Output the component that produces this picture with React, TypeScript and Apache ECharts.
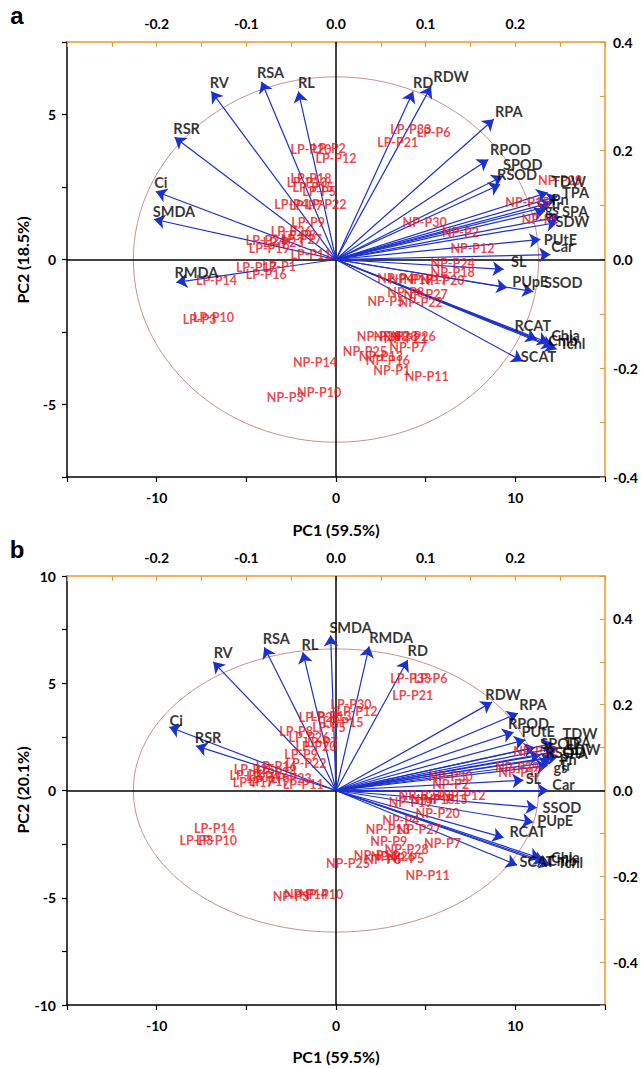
import React, { useEffect, useRef } from "react";
import * as echarts from "echarts";

// ---------- texts ----------
const pc1Title = "PC1 (59.5%)";
const pc2TitleA = "PC2 (18.5%)";
const pc2TitleB = "PC2 (20.1%)";

// ---------- tick labels ----------
const pcXLabels = [-10, 0, 10];
const pcYLabelsA = [-5, 0, 5];
const pcYLabelsB = [-10, -5, 0, 5, 10];
const topLabels = ["-0.2", "-0.1", "0.0", "0.1", "0.2"];
const rightLabelsA = ["-0.4", "-0.2", "0.0", "0.2", "0.4"];
const rightLabelsB = ["-0.4", "-0.2", "0.0", "0.2", "0.4"];

// ---------- correlation ellipse (centre x, centre y, radius x, radius y in PC units) ----------
const ellipseA = [0, 0, 11.3, 6.3];
const ellipseB = [0, 0, 11.3, 6.6];

// ---------- loadings, panel a: [variable, loading PC1, loading PC2] ----------
const loadingsA: [string, number, number][] = [
  ["RV", -0.139, 0.309],
  ["RSA", -0.083, 0.327],
  ["RL", -0.042, 0.309],
  ["RSR", -0.18, 0.225],
  ["Ci", -0.201, 0.125],
  ["SMDA", -0.203, 0.074],
  ["RMDA", -0.178, -0.042],
  ["RD", 0.086, 0.309],
  ["RDW", 0.106, 0.318],
  ["RPA", 0.176, 0.258],
  ["RPOD", 0.17, 0.184],
  ["SPOD", 0.186, 0.153],
  ["RSOD", 0.183, 0.138],
  ["TDW", 0.236, 0.123],
  ["TPA", 0.247, 0.116],
  ["Pn", 0.241, 0.105],
  ["Tr", 0.237, 0.098],
  ["gs", 0.233, 0.089],
  ["SPA", 0.25, 0.079],
  ["SDW", 0.247, 0.068],
  ["PUtE", 0.228, 0.037],
  ["Car", 0.239, 0.009],
  ["SL", 0.187, -0.018],
  ["PUpE", 0.191, -0.052],
  ["SSOD", 0.22, -0.059],
  ["RCAT", 0.224, -0.147],
  ["Chla", 0.237, -0.153],
  ["Chlb", 0.242, -0.16],
  ["Tchl", 0.246, -0.165],
  ["SCAT", 0.208, -0.187],
];

// ---------- loadings, panel b ----------
const loadingsB: [string, number, number][] = [
  ["RV", -0.137, 0.3],
  ["RSA", -0.08, 0.334],
  ["RL", -0.037, 0.322],
  ["SMDA", -0.006, 0.362],
  ["Ci", -0.186, 0.148],
  ["RSR", -0.156, 0.104],
  ["RMDA", 0.037, 0.336],
  ["RD", 0.08, 0.304],
  ["RDW", 0.174, 0.206],
  ["RPA", 0.203, 0.18],
  ["RPOD", 0.198, 0.136],
  ["PUtE", 0.211, 0.118],
  ["TDW", 0.242, 0.11],
  ["TPA", 0.247, 0.1],
  ["SPOD", 0.222, 0.1],
  ["RSOD", 0.228, 0.082],
  ["SPA", 0.244, 0.09],
  ["SDW", 0.248, 0.08],
  ["Pn", 0.241, 0.076],
  ["Tr", 0.239, 0.066],
  ["gs", 0.236, 0.058],
  ["SL", 0.209, 0.024],
  ["Car", 0.237, 0.0],
  ["SSOD", 0.224, -0.04],
  ["PUpE", 0.22, -0.074],
  ["RCAT", 0.187, -0.11],
  ["Chla", 0.228, -0.158],
  ["Chlb", 0.233, -0.166],
  ["Tchl", 0.239, -0.174],
  ["SCAT", 0.202, -0.174],
];

// ---------- scores, panel a: [genotype, PC1, PC2] ----------
const scoresA: [string, number, number][] = [
  ["LP-P20", -1.39, 3.79],
  ["LP-P2", -0.39, 3.83],
  ["LP-P12", 0.0, 3.48],
  ["LP-P18", -1.39, 2.79],
  ["LP-P13", -1.61, 2.66],
  ["LP-P15", -1.28, 2.48],
  ["LP-P5", -0.94, 2.34],
  ["LP-P4", -2.5, 1.9],
  ["LP-P7", -1.67, 1.86],
  ["LP-P22", -0.56, 1.9],
  ["LP-P9", -1.56, 1.28],
  ["LP-P26", -2.5, 0.97],
  ["LP-P8", -2.06, 0.83],
  ["LP-P24", -3.89, 0.66],
  ["LP-P23", -2.94, 0.59],
  ["LP-P19", -3.72, 0.38],
  ["LP-P27", -1.94, 0.69],
  ["LP-P11", -1.39, 0.17],
  ["LP-P17", -4.44, -0.28],
  ["LP-P1", -3.17, -0.24],
  ["LP-P16", -3.89, -0.52],
  ["LP-P14", -6.67, -0.72],
  ["LP-P3", -7.61, -2.07],
  ["LP-P10", -6.83, -2.0],
  ["LP-P33", 4.17, 4.48],
  ["LP-P6", 5.44, 4.38],
  ["LP-P21", 3.44, 4.03],
  ["NP-P30", 4.94, 1.28],
  ["NP-P2", 6.94, 0.93],
  ["NP-P12", 7.61, 0.38],
  ["NP-P15", 10.67, 1.97],
  ["NP-P9", 11.39, 1.38],
  ["NP-P29", 12.5, 2.72],
  ["NP-P24", 6.5, -0.14],
  ["NP-P18", 6.5, -0.45],
  ["NP-P4", 3.33, -0.66],
  ["NP-P19", 4.17, -0.69],
  ["NP-P17", 5.0, -0.69],
  ["NP-P20", 5.94, -0.72],
  ["NP-P8", 3.89, -1.14],
  ["NP-P27", 5.0, -1.21],
  ["NP-P5", 2.78, -1.45],
  ["NP-P22", 4.72, -1.48],
  ["NP-P28", 2.39, -2.66],
  ["NP-P23", 3.33, -2.66],
  ["NP-P21", 3.89, -2.72],
  ["NP-P26", 4.33, -2.66],
  ["NP-P7", 4.0, -3.03],
  ["NP-P25", 1.61, -3.17],
  ["NP-P13", 2.5, -3.34],
  ["NP-P16", 2.89, -3.48],
  ["NP-P1", 3.11, -3.83],
  ["NP-P11", 5.06, -4.03],
  ["NP-P14", -1.17, -3.55],
  ["NP-P10", -0.94, -4.59],
  ["NP-P3", -2.83, -4.76],
];

// ---------- scores, panel b ----------
const scoresB: [string, number, number][] = [
  ["LP-P30", 0.83, 3.99],
  ["LP-P12", 1.17, 3.66],
  ["LP-P13", -0.28, 3.47],
  ["LP-P28", -0.94, 3.38],
  ["LP-P15", 0.39, 3.15],
  ["LP-P5", -0.39, 2.96],
  ["LP-P8", -2.22, 2.73],
  ["LP-P26", -1.5, 2.49],
  ["LP-P7", -0.83, 2.26],
  ["LP-P20", -1.11, 2.03],
  ["LP-P9", -1.94, 1.66],
  ["LP-P22", -1.67, 1.24],
  ["LP-P16", -3.33, 1.14],
  ["LP-P25", -4.56, 0.96],
  ["LP-P24", -3.33, 0.86],
  ["LP-P4", -4.06, 0.63],
  ["LP-P1", -5.0, 0.68],
  ["LP-P23", -2.5, 0.58],
  ["LP-P19", -3.72, 0.44],
  ["LP-P17", -4.61, 0.35],
  ["LP-P11", -1.83, 0.26],
  ["LP-P14", -6.78, -1.75],
  ["LP-P3", -7.78, -2.31],
  ["LP-P10", -6.67, -2.31],
  ["LP-P33", 4.17, 5.2],
  ["LP-P6", 5.28, 5.2],
  ["LP-P21", 4.28, 4.45],
  ["NP-P30", 6.39, 0.63],
  ["NP-P2", 6.39, 0.26],
  ["NP-P12", 7.11, -0.21],
  ["NP-P29", 10.11, 1.05],
  ["NP-P22", 11.11, 1.84],
  ["NP-P17", 10.28, 0.86],
  ["NP-P24", 4.72, -0.21],
  ["NP-P18", 5.39, -0.44],
  ["NP-P15", 6.11, -0.44],
  ["NP-P19", 4.17, -0.54],
  ["NP-P20", 5.67, -1.05],
  ["NP-P4", 3.61, -1.38],
  ["NP-P13", 2.89, -1.84],
  ["NP-P27", 4.61, -1.84],
  ["NP-P9", 2.94, -2.4],
  ["NP-P28", 3.94, -2.73],
  ["NP-P7", 5.94, -2.49],
  ["NP-P16", 2.22, -3.05],
  ["NP-P26", 3.17, -3.1],
  ["NP-P5", 3.89, -3.15],
  ["NP-P6", 2.61, -3.24],
  ["NP-P25", 0.67, -3.38],
  ["NP-P11", 5.11, -3.94],
  ["NP-P3", -2.5, -4.96],
  ["NP-P14", -1.67, -4.87],
  ["NP-P10", -0.83, -4.87],
];

// ---------- label placement (style only, pixels) ----------
const offA: Record<string, [number, number]> = {
  RV: [8, -9], RSA: [9, -9], RL: [8, -9], RSR: [12, -9], Ci: [5, -9], SMDA: [20, -8],
  RMDA: [20, -10], RD: [10, -9], RDW: [20, -10], RPA: [15, -8], RPOD: [22, -10],
  SPOD: [20, -12], RSOD: [17, -10], TDW: [21, -11], TPA: [18, -4], Pn: [8, -3],
  Tr: [7, -2], gs: [7, -2], SPA: [15, -5], SDW: [15, -1], PUtE: [20, 0], Car: [12, -8],
  SL: [15, -8], PUpE: [23, -6], SSOD: [30, -9], RCAT: [-4, -14], Chla: [17, -7],
  Chlb: [10, -6], Tchl: [16, -6], SCAT: [16, -5],
};
const offB: Record<string, [number, number]> = {
  RV: [10, -9], RSA: [12, -9], RL: [7, -8], SMDA: [20, -8], Ci: [7, -7], RSR: [12, -8],
  RMDA: [22, -9], RD: [10, -10], RDW: [11, -8], RPA: [15, -9], RPOD: [15, -9],
  PUtE: [13, -8], TDW: [27, -10], TPA: [20, -5], SPOD: [25, -4], RSOD: [25, -3],
  SPA: [20, 2], SDW: [25, -7], Pn: [16, 2], Tr: [15, 3], gs: [13, 2], SL: [10, -2],
  Car: [15, -6], SSOD: [25, 0], PUpE: [22, -2], RCAT: [24, -6], Chla: [25, -1],
  Chlb: [17, -1], Tchl: [20, -3], SCAT: [20, -4],
};

const FONT = "Lato, 'Open Sans', sans-serif";
const ORANGE = "#f7962a";
const TICK_ORANGE = "#d9a040";
const BLUE = "#1b30cc";
const RED = "#e8161b";

function fmt1(k: number, d: number) {
  const s = (k / d).toFixed(1);
  return s === "-0.0" ? "0.0" : s;
}

function buildPanel(
  p: number,
  yMin: number,
  yMax: number,
  rMin: number,
  rMax: number,
  yLabels: number[],
  rLabels: string[],
  ellipse: number[],
  loadings: [string, number, number][],
  scores: [string, number, number][],
  offs: Record<string, [number, number]>
) {
  const xi = p * 2;
  const labelBase = { color: "#000", fontWeight: "bold" as const, fontSize: 14, fontFamily: FONT };
  const xAxes = [
    {
      gridIndex: p, type: "value", position: "bottom", min: -15, max: 15, interval: 5,
      axisLine: { onZero: false, lineStyle: { color: "#000", width: 1.5 } },
      axisTick: { show: true, length: 5, lineStyle: { color: "#000", width: 1.2 } },
      axisLabel: {
        ...labelBase, margin: 13, showMinLabel: true, showMaxLabel: true,
        formatter: (v: number) => (pcXLabels.includes(Math.round(v)) && Math.abs(v - Math.round(v)) < 1e-6 ? String(Math.round(v)) : ""),
      },
      splitLine: { show: false },
    },
    {
      gridIndex: p, type: "value", position: "top", min: -0.3, max: 0.3, interval: 0.05,
      axisLine: { onZero: false, lineStyle: { color: ORANGE, width: 1.5 } },
      axisTick: { show: true, inside: true, length: 5, lineStyle: { color: TICK_ORANGE, width: 1.2 } },
      axisLabel: {
        ...labelBase, margin: 12, showMinLabel: true, showMaxLabel: true,
        formatter: (v: number) => {
          const k = Math.round(v * 100);
          if (k % 10 !== 0) return "";
          const s = fmt1(k, 100);
          return topLabels.includes(s) ? s : "";
        },
      },
      splitLine: { show: false },
    },
  ];
  const yAxes = [
    {
      gridIndex: p, type: "value", position: "left", min: yMin, max: yMax, interval: 2.5,
      axisLine: { onZero: false, lineStyle: { color: "#000", width: 1.5 } },
      axisTick: { show: true, length: 5, lineStyle: { color: "#000", width: 1.2 } },
      axisLabel: {
        ...labelBase, margin: 11, showMinLabel: true, showMaxLabel: true,
        formatter: (v: number) => {
          const r = Math.round(v);
          return Math.abs(v - r) < 1e-6 && yLabels.includes(r) ? String(r) : "";
        },
      },
      splitLine: { show: false },
    },
    {
      gridIndex: p, type: "value", position: "right", min: rMin, max: rMax, interval: 0.1,
      axisLine: { onZero: false, lineStyle: { color: ORANGE, width: 1.5 } },
      axisTick: { show: true, inside: true, length: 5, lineStyle: { color: TICK_ORANGE, width: 1.2 } },
      axisLabel: {
        ...labelBase, margin: 8, showMinLabel: true, showMaxLabel: true,
        formatter: (v: number) => {
          const k = Math.round(v * 10);
          if (k % 2 !== 0) return "";
          const s = fmt1(k, 10);
          return rLabels.includes(s) ? s : "";
        },
      },
      splitLine: { show: false },
    },
  ];

  const series: any[] = [
    {
      type: "custom", xAxisIndex: xi, yAxisIndex: xi, silent: true, z: 1, clip: false,
      data: [ellipse],
      renderItem: (_params: any, api: any) => {
        const c = api.coord([api.value(0), api.value(1)]);
        const s = api.size([api.value(2), api.value(3)]);
        return {
          type: "ellipse",
          shape: { cx: c[0], cy: c[1], rx: s[0], ry: s[1] },
          style: { fill: "none", stroke: "#c9918f", lineWidth: 1 },
        };
      },
    },
    {
      type: "lines", coordinateSystem: "cartesian2d", xAxisIndex: xi, yAxisIndex: xi,
      silent: true, z: 2, symbol: "none",
      lineStyle: { color: "#000", width: 1.5, opacity: 1 },
      data: [
        { coords: [[0, yMin], [0, yMax]] },
        { coords: [[-15, 0], [15, 0]] },
      ],
    },
    {
      type: "lines", coordinateSystem: "cartesian2d", xAxisIndex: xi + 1, yAxisIndex: xi + 1,
      silent: true, z: 3, symbol: ["none", "arrow"], symbolSize: 11,
      lineStyle: { color: BLUE, width: 1.2, opacity: 1, curveness: 0 },
      data: loadings.map((l) => ({ coords: [[0, 0], [l[1], l[2]]] })),
    },
    {
      type: "scatter", xAxisIndex: xi, yAxisIndex: xi, silent: true, z: 4,
      symbol: "circle", symbolSize: 1, itemStyle: { color: "rgba(0,0,0,0)" },
      label: { show: true, position: "inside", formatter: "{b}", color: RED, fontSize: 12.5, fontWeight: "bold", fontFamily: FONT },
      data: scores.map((s) => ({ name: s[0], value: [s[1], s[2]] })),
    },
    {
      type: "scatter", xAxisIndex: xi + 1, yAxisIndex: xi + 1, silent: true, z: 5,
      symbol: "circle", symbolSize: 1, itemStyle: { color: "rgba(0,0,0,0)" },
      label: { show: true, position: "inside", formatter: "{b}", color: "#000", fontSize: 14.5, fontWeight: "bold", fontFamily: FONT },
      data: loadings.map((l) => ({ name: l[0], value: [l[1], l[2]], label: { offset: offs[l[0]] || [12, -8] } })),
    },
  ];
  return { xAxes, yAxes, series };
}

export default function App() {
  const ref = useRef<HTMLDivElement>(null);
  useEffect(() => {
    if (!ref.current) return;
    const chart = echarts.init(ref.current, undefined, { renderer: "svg" });
    const a = buildPanel(0, -7.5, 7.5, -0.4, 0.4, pcYLabelsA, rightLabelsA, ellipseA, loadingsA, scoresA, offA);
    const b = buildPanel(1, -10, 10, -0.5, 0.5, pcYLabelsB, rightLabelsB, ellipseB, loadingsB, scoresB, offB);
    const titleStyle = { font: `bold 16px ${FONT}`, fill: "#000", align: "center", verticalAlign: "middle" };
    chart.setOption({
      animation: false,
      backgroundColor: "#fff",
      grid: [
        { left: 67, top: 42, width: 538, height: 435 },
        { left: 67, top: 576, width: 538, height: 429 },
      ],
      xAxis: [...a.xAxes, ...b.xAxes],
      yAxis: [...a.yAxes, ...b.yAxes],
      series: [...a.series, ...b.series],
      graphic: [
        { type: "text", x: 17, y: 15, style: { text: "a", font: "bold 24px Arial, 'Liberation Sans', sans-serif", fill: "#000", align: "center", verticalAlign: "middle" } },
        { type: "text", x: 17, y: 549, style: { text: "b", font: "bold 24px Arial, 'Liberation Sans', sans-serif", fill: "#000", align: "center", verticalAlign: "middle" } },
        { type: "text", x: 336, y: 529, style: { text: pc1Title, ...titleStyle } },
        { type: "text", x: 336, y: 1056, style: { text: pc1Title, ...titleStyle } },
        { type: "text", x: 22, y: 260, rotation: Math.PI / 2, style: { text: pc2TitleA, ...titleStyle } },
        { type: "text", x: 22, y: 790, rotation: Math.PI / 2, style: { text: pc2TitleB, ...titleStyle } },
      ],
    });
    return () => chart.dispose();
  }, []);
  return <div ref={ref} style={{ position: "absolute", left: 0, top: 0, width: 644, height: 1068, background: "#fff" }} />;
}
